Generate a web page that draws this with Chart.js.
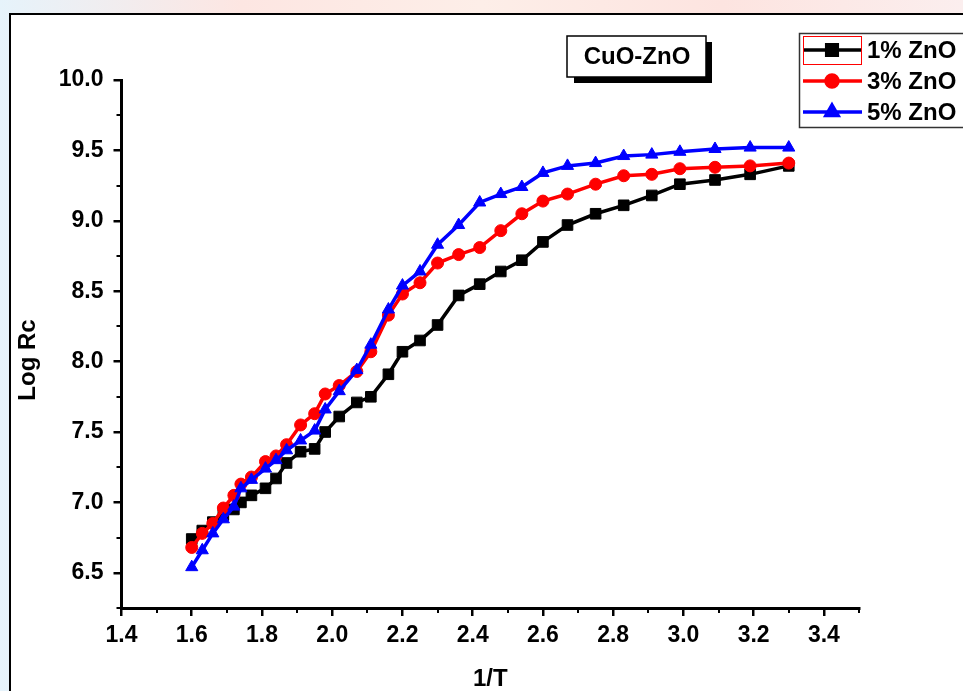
<!DOCTYPE html>
<html>
<head>
<meta charset="utf-8">
<script src="https://cdn.jsdelivr.net/npm/chart.js@4"></script>
<style>
  html, body { margin: 0; padding: 0; background: #fff; }
  #wrap { position: relative; width: 963px; height: 691px; overflow: hidden; }
  canvas { display: block; }
</style>
</head>
<body>
<div id="wrap"><canvas id="chart" width="963" height="691"></canvas></div>
<script>
const invT = [1.60, 1.63, 1.66, 1.69, 1.72, 1.74, 1.77, 1.81, 1.84, 1.87, 1.91, 1.95, 1.98, 2.02, 2.07, 2.11, 2.16,
  2.20, 2.25, 2.30, 2.36, 2.42, 2.48, 2.54, 2.60, 2.67, 2.75, 2.83, 2.91, 2.99, 3.09, 3.19, 3.30];
const zno1 = [6.74, 6.80, 6.86, 6.91, 6.95, 7.00, 7.05, 7.10, 7.17, 7.28, 7.36, 7.38, 7.50, 7.61, 7.71, 7.75, 7.91,
  8.07, 8.15, 8.26, 8.47, 8.55, 8.64, 8.72, 8.85, 8.97, 9.05, 9.11, 9.18, 9.26, 9.29, 9.33, 9.39];
const zno3 = [6.68, 6.78, 6.85, 6.96, 7.05, 7.13, 7.18, 7.29, 7.33, 7.41, 7.55, 7.63, 7.77, 7.83, 7.93, 8.07, 8.33,
  8.48, 8.56, 8.70, 8.76, 8.81, 8.93, 9.05, 9.14, 9.19, 9.26, 9.32, 9.33, 9.37, 9.38, 9.39, 9.41];
const zno5 = [6.54, 6.66, 6.78, 6.88, 6.97, 7.10, 7.16, 7.24, 7.30, 7.37, 7.44, 7.51, 7.66, 7.79, 7.94, 8.12, 8.37,
  8.54, 8.64, 8.83, 8.97, 9.13, 9.19, 9.24, 9.34, 9.39, 9.41, 9.46, 9.47, 9.49, 9.51, 9.52, 9.52];
const seriesLabels = ["1% ZnO", "3% ZnO", "5% ZnO"];
const xTicks = [1.4, 1.6, 1.8, 2.0, 2.2, 2.4, 2.6, 2.8, 3.0, 3.2, 3.4];
const yTicks = [6.5, 7.0, 7.5, 8.0, 8.5, 9.0, 9.5, 10.0];
const xMinorTicks = [1.5, 1.7, 1.9, 2.1, 2.3, 2.5, 2.7, 2.9, 3.1, 3.3, 3.5];
const yMinorTicks = [6.25, 6.75, 7.25, 7.75, 8.25, 8.75, 9.25, 9.75];
const boxTitle = "CuO-ZnO";
const yTitle = "Log Rc";

const FONT = '"Liberation Sans", Arial, sans-serif';
const toPoints = (ys) => invT.map((x, i) => ({ x, y: ys[i] }));

const makeSet = (label, ys, color, pointStyle, radius, order) => ({
  label,
  data: toPoints(ys),
  borderColor: color,
  backgroundColor: color,
  pointBackgroundColor: color,
  pointBorderColor: color,
  pointStyle,
  pointRadius: radius,
  pointBorderWidth: 1,
  borderWidth: 3.5,
  tension: 0,
  order,
});

const datasets = [
  makeSet(seriesLabels[0], zno1, "#000000", "rect", 7.5, 2),
  makeSet(seriesLabels[1], zno3, "#ff0000", "circle", 6, 1),
  makeSet(seriesLabels[2], zno5, "#0000ff", "triangle", 7, 0),
];

// page frame, title box, legend, y title and minor ticks
const decorPlugin = {
  id: "decor",
  beforeDraw(chart) {
    const ctx = chart.ctx;
    ctx.save();
    ctx.fillStyle = "#fff";
    ctx.fillRect(0, 0, 963, 691);
    // faint watermark strip above the frame
    const g = ctx.createLinearGradient(0, 0, 963, 0);
    g.addColorStop(0, "#e6f3fb");
    g.addColorStop(0.25, "#fde6e2");
    g.addColorStop(0.5, "#fdeee8");
    g.addColorStop(0.75, "#fde4e0");
    g.addColorStop(1, "#fbeeee");
    ctx.fillStyle = g;
    ctx.fillRect(0, 0, 963, 13);
    ctx.fillRect(0, 0, 9, 691);
    ctx.fillStyle = "#fff";
    ctx.fillRect(10, 15, 953, 676);
    ctx.strokeStyle = "#000";
    ctx.lineWidth = 2;
    ctx.beginPath();
    ctx.moveTo(10, 691);
    ctx.lineTo(10, 14);
    ctx.lineTo(963, 14);
    ctx.stroke();
    ctx.restore();
  },
  afterDraw(chart) {
    const ctx = chart.ctx;
    const xs = chart.scales.x;
    const ys = chart.scales.y;
    const area = chart.chartArea;
    ctx.save();
    ctx.strokeStyle = "#000";
    ctx.lineWidth = 2;
    xMinorTicks.forEach((v) => {
      const px = Math.round(xs.getPixelForValue(v));
      ctx.beginPath();
      ctx.moveTo(px, area.bottom);
      ctx.lineTo(px, area.bottom + 5);
      ctx.stroke();
    });
    yMinorTicks.forEach((v) => {
      const py = Math.round(ys.getPixelForValue(v));
      ctx.beginPath();
      ctx.moveTo(area.left, py);
      ctx.lineTo(area.left - 5, py);
      ctx.stroke();
    });

    // y axis title
    ctx.save();
    ctx.translate(28, 360);
    ctx.rotate(-Math.PI / 2);
    ctx.fillStyle = "#000";
    ctx.font = `bold 24px ${FONT}`;
    ctx.textAlign = "center";
    ctx.textBaseline = "middle";
    ctx.fillText(yTitle, 0, 0);
    ctx.restore();

    // title box with shadow
    ctx.fillStyle = "#000";
    ctx.fillRect(574, 42, 138, 41);
    ctx.fillStyle = "#fff";
    ctx.fillRect(567, 36, 139, 41);
    ctx.lineWidth = 1.5;
    ctx.strokeRect(567, 36, 139, 41);
    ctx.fillStyle = "#000";
    ctx.font = `bold 24px ${FONT}`;
    ctx.textAlign = "center";
    ctx.textBaseline = "middle";
    ctx.fillText(boxTitle, 637, 57);

    // legend
    ctx.strokeStyle = "#333";
    ctx.lineWidth = 1.5;
    ctx.strokeRect(799.5, 33.5, 170, 94);
    const rows = [50, 81, 112];
    datasets.forEach((ds, i) => {
      const y = rows[i];
      ctx.strokeStyle = ds.borderColor;
      ctx.lineWidth = 3.5;
      ctx.beginPath();
      ctx.moveTo(803, y);
      ctx.lineTo(862, y);
      ctx.stroke();
      Chart.helpers.drawPoint(ctx, {
        pointStyle: ds.pointStyle,
        radius: ds.pointRadius,
        borderWidth: 1,
        rotation: 0,
      }, 832, y);
      ctx.fillStyle = ds.borderColor;
      ctx.fill();
      ctx.fillStyle = "#000";
      ctx.font = `bold 24px ${FONT}`;
      ctx.textAlign = "left";
      ctx.textBaseline = "middle";
      ctx.fillText(ds.label, 867, y + 1);
    });
    ctx.strokeStyle = "#ff0000";
    ctx.lineWidth = 1;
    ctx.strokeRect(803.5, 36.5, 58, 28);
    ctx.restore();
  },
};

new Chart(document.getElementById("chart"), {
  type: "line",
  data: { datasets },
  plugins: [decorPlugin],
  options: {
    responsive: false,
    animation: false,
    layout: { padding: { top: 80, right: 104, left: 0, bottom: 0 } },
    plugins: {
      legend: { display: false },
      tooltip: { enabled: false },
    },
    scales: {
      x: {
        type: "linear",
        min: 1.4,
        max: 3.5,
        afterBuildTicks: (scale) => {
          scale.ticks = xTicks.map((value) => ({ value }));
        },
        afterFit: (scale) => {
          scale.height = 83;
        },
        grid: { drawOnChartArea: false, drawTicks: true, tickLength: 8, color: "#000", lineWidth: 2.5 },
        border: { display: true, color: "#000", width: 3 },
        ticks: {
          color: "#000",
          font: { family: FONT, size: 23, weight: "bold" },
          padding: 6,
          maxRotation: 0,
          callback: (v) => Number(v).toFixed(1),
        },
        title: {
          display: true,
          text: "1/T",
          color: "#000",
          font: { family: FONT, size: 24, weight: "bold", lineHeight: 1 },
          padding: { top: 14, bottom: 0 },
        },
      },
      y: {
        min: 6.25,
        max: 10,
        afterBuildTicks: (scale) => {
          scale.ticks = yTicks.map((value) => ({ value }));
        },
        afterFit: (scale) => {
          scale.width = 121.5;
        },
        grid: { drawOnChartArea: false, drawTicks: true, tickLength: 8, color: "#000", lineWidth: 2.5 },
        border: { display: true, color: "#000", width: 3 },
        ticks: {
          color: "#000",
          font: { family: FONT, size: 23, weight: "bold" },
          padding: 10,
          callback: (v) => Number(v).toFixed(1),
        },
      },
    },
  },
});
</script>
</body>
</html>
